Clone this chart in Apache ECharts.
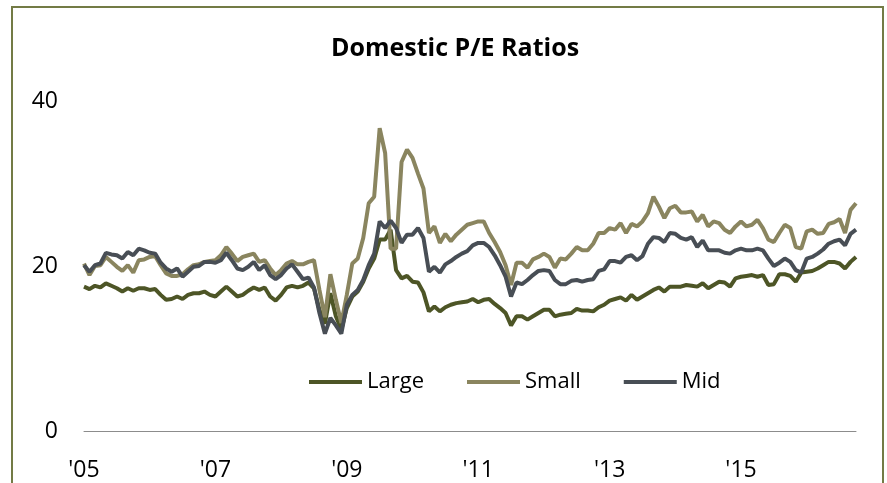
<!DOCTYPE html>
<html>
<head>
<meta charset="utf-8">
<script src="https://cdn.jsdelivr.net/npm/echarts@6/dist/echarts.min.js"></script>
<style>
  html, body { margin: 0; padding: 0; background: #fff; }
  #chart { width: 887px; height: 483px; }
</style>
</head>
<body>
<div id="chart"></div>
<script>
// monthly, Jan 2005 .. Oct 2016
var startYear = 2005;
var nMonths = 142;
var months = [];
for (var i = 0; i < nMonths; i++) {
    var y = startYear + Math.floor(i / 12);
    var m = (i % 12) + 1;
    months.push(y + '-' + (m < 10 ? '0' + m : m));
}
var tickLabels = ["'05", "'07", "'09", "'11", "'13", "'15"];

var large = [
    17.5, 17.2, 17.6, 17.4, 17.9, 17.6, 17.3, 16.9, 17.3, 17.0, 17.3, 17.3,
    17.1, 17.2, 16.5, 15.9, 16.0, 16.3, 16.0, 16.5, 16.7, 16.7, 16.9, 16.5,
    16.3, 16.9, 17.5, 16.9, 16.3, 16.5, 17.0, 17.4, 17.1, 17.4, 16.3, 15.8,
    16.5, 17.4, 17.6, 17.4, 17.6, 18.0, 17.3, 14.7, 13.0, 16.7, 13.9, 12.3,
    14.9, 16.3, 16.9, 18.1, 19.7, 20.9, 23.2, 23.2, 24.4, 19.5, 18.5, 18.8,
    18.1, 18.0, 16.8, 14.5, 15.1, 14.5, 15.0, 15.3, 15.5, 15.6, 15.7, 16.0,
    15.6, 15.9, 16.0, 15.4, 14.9, 14.3, 12.8, 13.9, 13.9, 13.5, 13.9, 14.3,
    14.7, 14.7, 13.9, 14.1, 14.2, 14.3, 14.8, 14.6, 14.6, 14.5, 15.0, 15.3,
    15.8, 16.0, 16.2, 15.8, 16.5, 15.9, 16.3, 16.7, 17.1, 17.4, 16.9, 17.5,
    17.5, 17.5, 17.7, 17.6, 17.5, 17.9, 17.3, 17.7, 18.1, 18.0, 17.5, 18.5,
    18.7, 18.8, 18.9, 18.7, 18.9, 17.7, 17.8, 19.0, 19.0, 18.8, 18.1, 19.2,
    19.3, 19.4, 19.7, 20.1, 20.5, 20.5, 20.3, 19.7, 20.5, 21.1
];
var small = [
    20.3, 18.9, 20.0, 20.1, 21.1, 20.5, 19.9, 19.4, 20.1, 19.2, 20.7, 20.8,
    21.1, 21.2, 20.1, 19.1, 18.8, 18.8, 19.0, 19.6, 20.1, 20.2, 20.5, 20.6,
    20.7, 21.3, 22.3, 21.5, 20.6, 21.1, 21.3, 21.5, 20.5, 20.7, 19.7, 18.9,
    19.5, 20.3, 20.6, 20.2, 20.2, 20.5, 20.7, 17.1, 13.8, 19.0, 15.9, 13.1,
    16.5, 20.3, 20.9, 23.4, 27.6, 28.4, 36.7, 33.7, 22.1, 22.1, 32.6, 34.1,
    33.1, 31.2, 29.4, 24.0, 24.8, 22.8, 23.9, 23.0, 23.8, 24.4, 25.0, 25.2,
    25.4, 25.4, 24.0, 22.9, 21.7, 20.1, 17.7, 20.4, 20.4, 19.8, 20.8, 21.1,
    21.5, 21.1, 19.8, 20.9, 20.8, 21.5, 22.3, 21.9, 21.9, 22.7, 24.0, 24.0,
    24.6, 24.4, 25.2, 24.0, 25.1, 24.8, 25.4, 26.4, 28.4, 27.2, 25.8, 27.0,
    27.3, 26.5, 26.5, 26.6, 25.4, 26.2, 24.8, 25.4, 25.2, 24.4, 24.0, 24.8,
    25.4, 24.8, 25.0, 25.6, 24.6, 23.2, 22.9, 24.0, 25.0, 24.6, 22.3, 22.1,
    24.2, 24.4, 23.9, 24.0, 25.1, 25.3, 25.7, 24.0, 26.8, 27.6
];
var mid = [
    20.1, 19.3, 20.1, 20.3, 21.6, 21.4, 21.3, 20.9, 21.7, 21.3, 22.1, 21.9,
    21.6, 21.5, 20.4, 19.7, 19.3, 19.7, 18.7, 19.3, 19.9, 20.0, 20.5, 20.5,
    20.4, 20.7, 21.6, 20.7, 19.7, 19.5, 19.9, 20.5, 19.5, 20.1, 18.9, 18.4,
    18.9, 19.7, 20.2, 19.3, 18.4, 18.6, 17.4, 14.3, 11.8, 13.7, 12.8, 11.8,
    15.3, 16.5, 17.1, 18.3, 20.1, 21.5, 25.4, 24.6, 25.5, 24.6, 22.8, 23.8,
    23.8, 24.6, 23.4, 19.3, 19.9, 19.2, 20.2, 20.6, 21.1, 21.5, 21.8, 22.5,
    22.8, 22.8, 22.3, 21.3, 20.1, 18.7, 16.3, 18.0, 17.8, 18.3, 18.9, 19.4,
    19.5, 19.4, 18.3, 17.8, 17.8, 18.2, 18.3, 18.1, 18.3, 18.4, 19.4, 19.6,
    20.6, 20.6, 20.4, 21.1, 21.3, 20.7, 21.2, 22.7, 23.5, 23.4, 22.9, 24.0,
    23.9, 23.4, 23.2, 23.5, 22.3, 23.1, 21.9, 21.9, 21.9, 21.6, 21.5, 21.9,
    22.1, 21.9, 21.9, 22.1, 21.9, 20.9, 20.0, 20.4, 20.9, 20.5, 19.5, 19.2,
    20.9, 21.1, 21.5, 22.0, 22.7, 23.0, 23.2, 22.5, 23.9, 24.4
];

var seriesNames = ['Large', 'Small', 'Mid'];
var seriesColors = ['#4d5526', '#8a855f', '#484e55'];
var fontFam = '"Open Sans", "Noto Sans", sans-serif';

var chart = echarts.init(document.getElementById('chart'));
chart.setOption({
    animation: false,
    color: seriesColors,
    title: {
        text: 'Domestic P/E Ratios',
        left: 326,
        top: 31,
        textStyle: {
            fontFamily: fontFam,
            fontSize: 25,
            fontWeight: 'bold',
            color: '#000'
        }
    },
    legend: {
        data: seriesNames,
        left: 304,
        top: 366,
        icon: 'rect',
        itemWidth: 53,
        itemHeight: 4,
        itemGap: 43,
        textStyle: {
            fontFamily: fontFam,
            fontSize: 22,
            color: '#000'
        }
    },
    grid: {
        left: 84,
        right: 31,
        top: 101,
        bottom: 52
    },
    xAxis: {
        type: 'category',
        data: months,
        boundaryGap: false,
        axisLine: { lineStyle: { color: '#8c8c8c', width: 1 } },
        axisTick: { show: false },
        axisLabel: {
            interval: function (idx) { return idx % 24 === 0; },
            formatter: function (v, idx) { return tickLabels[idx / 24]; },
            margin: 28,
            fontFamily: fontFam,
            fontSize: 23,
            color: '#000'
        },
        splitLine: { show: false }
    },
    yAxis: {
        type: 'value',
        min: 0,
        max: 40,
        interval: 20,
        axisLine: { show: false },
        axisTick: { show: false },
        splitLine: { show: false },
        axisLabel: {
            margin: 26,
            fontFamily: fontFam,
            fontSize: 23,
            color: '#000'
        }
    },
    graphic: [{
        type: 'rect',
        shape: { x: 12, y: 7, width: 871, height: 500 },
        style: { fill: 'none', stroke: '#737b45', lineWidth: 2 },
        silent: true
    }],
    series: [
        { name: 'Large', type: 'line', data: large, symbol: 'none', lineStyle: { width: 4 } },
        { name: 'Small', type: 'line', data: small, symbol: 'none', lineStyle: { width: 4 } },
        { name: 'Mid', type: 'line', data: mid, symbol: 'none', lineStyle: { width: 4 } }
    ]
});
</script>
</body>
</html>
